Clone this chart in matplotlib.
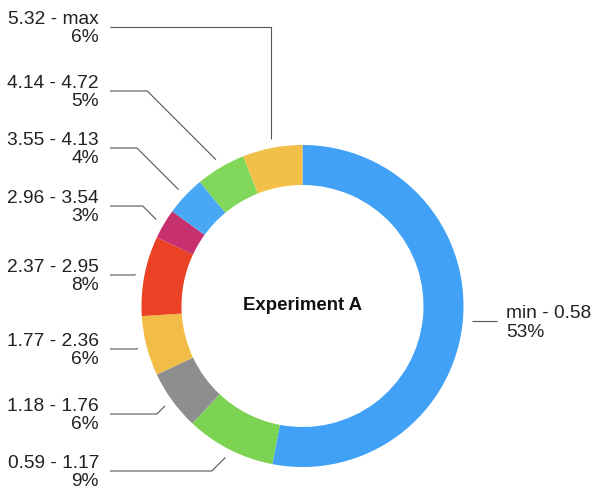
import numpy as np
import matplotlib
matplotlib.use("Agg")
import matplotlib.pyplot as plt

plt.rcParams['font.family'] = ['Liberation Sans', 'DejaVu Sans']

# bins of the measured value and their share in percent (clockwise from top)
ranges = ["min - 0.58", "0.59 - 1.17", "1.18 - 1.76", "1.77 - 2.36",
          "2.37 - 2.95", "2.96 - 3.54", "3.55 - 4.13", "4.14 - 4.72",
          "5.32 - max"]
shares = [53, 9, 6, 6, 8, 3, 4, 5, 6]
colors = ["#40A1F6", "#7CD352", "#8E8E8E", "#F2BD46", "#EB4125",
          "#C6306F", "#49A8F3", "#80D75A", "#F2BF48"]
# vertical position of each label (pixels from top)
label_y = [321, 471, 414, 349, 275, 206, 148, 91, 27]

W, H = 593, 495
cx, cy = 302.5, H - 306
R, ring = 161, 40

fig = plt.figure(figsize=(W / 100, H / 100), dpi=100)
ax = fig.add_axes([0, 0, 1, 1])

ax.pie(shares, colors=colors, startangle=90, counterclock=False,
       center=(cx, cy), radius=R, frame=True,
       wedgeprops=dict(width=ring, linewidth=0))
ax.set_xlim(0, W)
ax.set_ylim(0, H)
ax.set_aspect('equal')
ax.axis('off')

ax.text(cx, cy + 1, "Experiment A", ha='center', va='center',
        fontsize=13.4, fontweight='bold', color='#111111')

line_kw = dict(color='#555555', lw=0.8, solid_capstyle='butt')
text_kw = dict(va='center', fontsize=13.8, color='#222222', linespacing=1.1)
cum = np.cumsum([0] + shares[:-1])
for name, s, c0, ly in zip(ranges, shares, cum, label_y):
    mid = np.deg2rad(90 - (c0 + s / 2) / 100 * 360)
    ax_ = cx + 170 * np.cos(mid)
    ay = cy + 170 * np.sin(mid)
    ty = H - ly
    txt = f"{name}\n{s}%"
    if np.cos(mid) > 0:
        ax.plot([ax_, ax_ + 25], [ty, ty], **line_kw)
        ax.text(506, ty - 2, txt, ha='left', **text_kw)
        continue
    if name.endswith("max"):
        xs, ys = [ax_, ax_, 110], [ay, ty, ty]
    else:
        dy = ty - ay
        ex = ax_ - abs(dy)
        xs, ys = [ax_, ex, 110], [ay, ty, ty]
    ax.plot(xs, ys, **line_kw)
    ax.text(99, ty - 1.5, txt, ha='right', multialignment='right', **text_kw)

fig.savefig("out.png", dpi=100, facecolor='white')
